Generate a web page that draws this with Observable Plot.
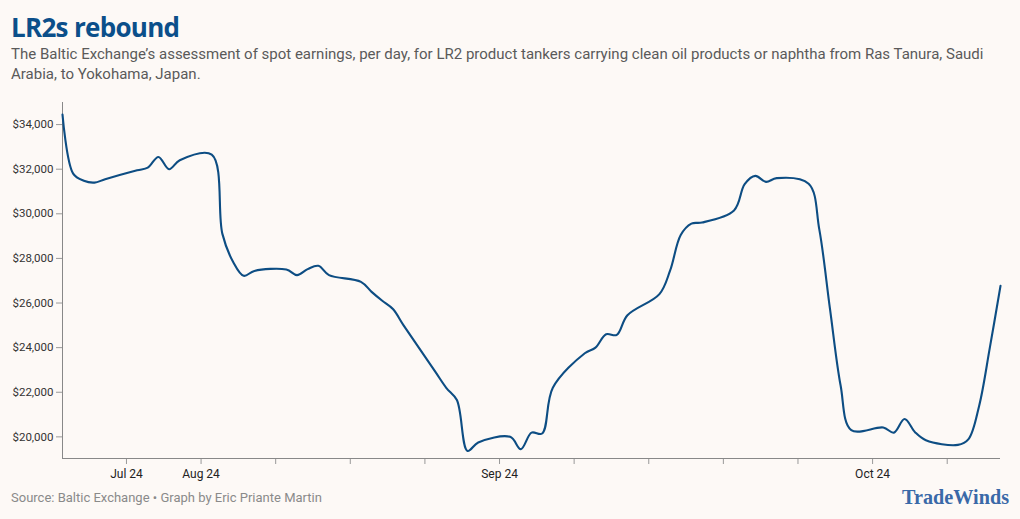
<!DOCTYPE html>
<html>
<head>
<meta charset="utf-8">
<script src="https://cdn.jsdelivr.net/npm/d3@7"></script>
<script src="https://cdn.jsdelivr.net/npm/@observablehq/plot@0.6"></script>
<style>
  html, body { margin: 0; padding: 0; background: #fdf9f6; }
  body { width: 1020px; height: 519px; position: relative; overflow: hidden; font-family: "Roboto", "Lato", sans-serif; }
  #title { position: absolute; left: 11px; top: 11px; font-family: "Open Sans", sans-serif; font-weight: 700; font-size: 26px; color: #0b4f8a; letter-spacing: -0.7px; line-height: 32px; }
  #subtitle { position: absolute; left: 11px; top: 45px; font-size: 15px; line-height: 19.5px; color: #5a5a5a; }
  #chart { position: absolute; left: 0; top: 90px; }
  #source { position: absolute; left: 11px; top: 490px; font-size: 13px; color: #8a8a8a; }
  #logo { position: absolute; left: 896px; top: 478px; overflow: visible; }
</style>
</head>
<body>
<div id="title">LR2s rebound</div>
<div id="subtitle">The Baltic Exchange’s assessment of spot earnings, per day, for LR2 product tankers carrying clean oil products or naphtha from Ras Tanura, Saudi<br>Arabia, to Yokohama, Japan.</div>
<div id="chart"></div>
<div id="source">Source: Baltic Exchange • Graph by Eric Priante Martin</div>
<svg id="logo" width="122" height="36"><text x="6" y="26" textLength="107" lengthAdjust="spacingAndGlyphs" font-family="Liberation Serif, DejaVu Serif, serif" font-weight="700" font-size="22" fill="#3a69a8">TradeWinds</text></svg>
<script>
const dates = [
  "2024-07-22","2024-07-23","2024-07-24","2024-07-25","2024-07-26",
  "2024-07-29","2024-07-30","2024-07-31","2024-08-01","2024-08-02",
  "2024-08-05","2024-08-06","2024-08-07","2024-08-08","2024-08-09",
  "2024-08-12","2024-08-13","2024-08-14","2024-08-15","2024-08-16",
  "2024-08-19","2024-08-20","2024-08-21","2024-08-22","2024-08-23",
  "2024-08-26","2024-08-27","2024-08-28","2024-08-29","2024-08-30",
  "2024-09-02","2024-09-03","2024-09-04","2024-09-05","2024-09-06",
  "2024-09-09","2024-09-10","2024-09-11","2024-09-12","2024-09-13",
  "2024-09-16","2024-09-17","2024-09-18","2024-09-19","2024-09-20",
  "2024-09-23","2024-09-24","2024-09-25","2024-09-26","2024-09-27",
  "2024-09-30","2024-10-01","2024-10-02","2024-10-03","2024-10-04",
  "2024-10-07","2024-10-08","2024-10-09","2024-10-10","2024-10-11",
  "2024-10-14","2024-10-15","2024-10-16","2024-10-17","2024-10-18"
];
const earnings = [
  34450, 31800, 31480, 31400, 31550,
  31950, 32070, 32550, 32000, 32400,
  32650, 29100, 27850, 27220, 27440,
  27500, 27250, 27520, 27670, 27250,
  26950, 26500, 26100, 25730, 25000,
  22900, 22200, 21650, 19370, 19750,
  20000, 19450, 20190, 20150, 22200,
  23750, 24000, 24600, 24570, 25450,
  26400, 27450, 29050, 29560, 29610,
  30150, 31330, 31700, 31430, 31600,
  31350, 29300, 25750, 22300, 20300,
  20420, 20190, 20800, 20200, 19850,
  19640, 19900, 21400, 24000, 26770
];
const yTicks = [20000, 22000, 24000, 26000, 28000, 30000, 32000, 34000];
const xTickDates = ["2024-07-28","2024-08-04","2024-08-11","2024-08-18","2024-08-25","2024-09-01","2024-09-08","2024-09-15","2024-09-22","2024-09-29","2024-10-06","2024-10-13"];
const xTickLabels = ["Jul 24","Aug 24","","","","Sep 24","","","","","Oct 24",""];
const yDomain = [19030, 34990];

const parse = s => new Date(s + "T00:00:00Z");
const data = dates.map((d, i) => ({date: parse(d), value: earnings[i]}));
const xTicks = xTickDates.map(parse);
const xDomain = [parse(dates[0]), parse(dates[dates.length - 1])];
const labelFor = d => xTickLabels[xTicks.findIndex(t => +t === +d)] ?? "";

const chart = Plot.plot({
  width: 1020,
  height: 400,
  marginLeft: 62,
  marginRight: 20,
  marginTop: 12,
  marginBottom: 32,
  style: {background: "transparent", fontFamily: "Roboto, sans-serif", fontSize: "12px", color: "#333"},
  x: {type: "utc", domain: xDomain},
  y: {domain: yDomain},
  marks: [
    Plot.axisY({ticks: yTicks, tickFormat: d => "$" + d3.format(",")(d), tickSize: 6, tickPadding: 3, fontSize: 11.5, stroke: "#999", color: "#333", label: null}),
    Plot.axisX({ticks: xTicks, tickFormat: labelFor, tickSize: 6, tickPadding: 5, fontSize: 12, stroke: "#999", color: "#222", label: null}),
    Plot.ruleX([xDomain[0]], {stroke: "#888", strokeWidth: 1}),
    Plot.ruleY([yDomain[0]], {stroke: "#888", strokeWidth: 1}),
    Plot.line(data, {x: "date", y: "value", curve: "catmull-rom", stroke: "#0d4d83", strokeWidth: 2.1})
  ]
});
document.getElementById("chart").appendChild(chart);
</script>
</body>
</html>
